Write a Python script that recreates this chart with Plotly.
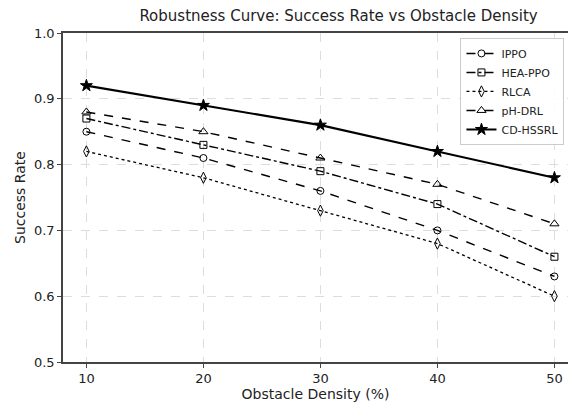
import plotly.graph_objects as go

density = [10, 20, 30, 40, 50]
ippo = [0.85, 0.81, 0.76, 0.70, 0.63]
hea_ppo = [0.87, 0.83, 0.79, 0.74, 0.66]
rlca = [0.82, 0.78, 0.73, 0.68, 0.60]
ph_drl = [0.88, 0.85, 0.81, 0.77, 0.71]
cd_hssrl = [0.92, 0.89, 0.86, 0.82, 0.78]

series = [
    ("IPPO", ippo, "dash", "circle-open", 1.4, 7),
    ("HEA-PPO", hea_ppo, "dashdot", "square-open", 1.4, 7),
    ("RLCA", rlca, "dot", "diamond-tall-open", 1.3, 8),
    ("pH-DRL", ph_drl, "dash", "triangle-up-open", 1.4, 8),
    ("CD-HSSRL", cd_hssrl, "solid", "star", 2.1, 9),
]

fig = go.Figure()
for name, ys, dash, sym, w, ms in series:
    fig.add_trace(go.Scatter(
        x=density, y=ys, name=name, mode="lines+markers",
        line=dict(color="black", dash=dash, width=w),
        marker=dict(symbol=sym, size=ms, color="black",
                    line=dict(color="black", width=1)),
    ))

axis_common = dict(
    showline=True, linecolor="#444", linewidth=1.6,
    ticks="outside", ticklen=4, tickcolor="#444", tickwidth=1.2,
    showgrid=True, gridcolor="#dddddd", griddash="dash", gridwidth=1,
    zeroline=False, tickfont=dict(size=13, color="#222"), automargin=False,
)

fig.update_layout(
    width=568, height=404, autosize=False,
    margin=dict(l=63, r=0, t=33, b=42, pad=0),
    paper_bgcolor="white", plot_bgcolor="white",
    font=dict(family="DejaVu Sans", color="#222"),
    title=dict(text="Robustness Curve: Success Rate vs Obstacle Density",
               x=0.596, xanchor="center", y=0.96, yanchor="middle",
               font=dict(size=15, color="#222")),
    xaxis=dict(range=[8, 51.16], tickvals=[10, 20, 30, 40, 50], mirror=True,
               title=dict(text="Obstacle Density (%)", font=dict(size=14), standoff=3),
               **axis_common),
    yaxis=dict(range=[0.5, 1.0], tickvals=[0.5, 0.6, 0.7, 0.8, 0.9, 1.0],
               tickformat=".1f", mirror=False,
               title=dict(text="Success Rate", font=dict(size=14), standoff=5),
               **axis_common),
    legend=dict(x=0.993, y=0.985, xanchor="right", yanchor="top",
                bgcolor="rgba(255,255,255,0.9)", bordercolor="#cccccc", borderwidth=1,
                font=dict(size=11, color="#222"), tracegroupgap=0,
                itemwidth=30),
    showlegend=True,
)

fig.write_html("out.html")
